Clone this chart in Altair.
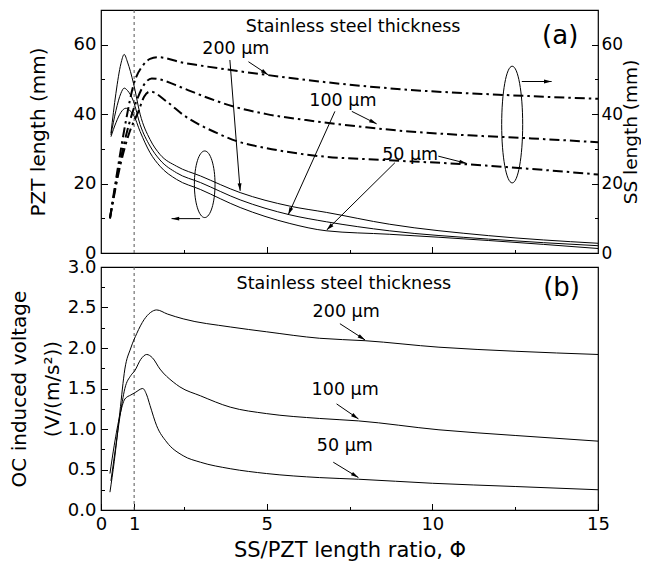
import math
import altair as alt
import pandas as pd

FONT = "DejaVu Sans"
W, HA, HB = 497, 243, 243
X_DOMAIN = [0, 15]
YA_DOMAIN = [0, 70]
YB_DOMAIN = [0, 3]

# ---------------- panel (a): PZT length (solid, left axis) ----------------
pzt_phi_200 = [0.3, 0.45, 0.6, 0.7, 0.8, 0.98, 1.18, 1.48, 1.78, 2.28, 3.0, 4.2, 5.7, 6.8, 8.7, 11.7, 15]
pzt_len_200 = [34.5, 46, 54.5, 57.2, 55, 48.9, 40, 32.7, 28.4, 25.0, 22.2, 17.4, 13.5, 11.7, 8.3, 5.0, 2.8]
pzt_phi_100 = [0.3, 0.45, 0.6, 0.7, 0.8, 0.98, 1.18, 1.48, 1.78, 2.28, 3.0, 4.2, 5.7, 6.8, 8.7, 11.7, 15]
pzt_len_100 = [34, 41, 46, 47.5, 46.8, 43.7, 37, 30.8, 26.8, 23.1, 20.3, 15.3, 11.0, 9.0, 6.4, 4.0, 2.1]
pzt_phi_50 = [0.3, 0.45, 0.6, 0.75, 0.85, 0.98, 1.18, 1.48, 1.78, 2.28, 3.0, 4.2, 5.7, 6.8, 8.7, 11.7, 15]
pzt_len_50 = [33.5, 37.5, 40.5, 41.7, 41.2, 39.8, 35, 28.9, 25.0, 21.2, 18.3, 13.1, 8.5, 6.4, 5.4, 3.6, 1.3]

# ---------------- panel (a): SS length (dash-dot, right axis) ----------------
ss_phi_200 = [0.27, 0.5, 0.75, 0.98, 1.28, 1.48, 1.72, 2.48, 3.0, 5.0, 6.6, 9.3, 12.0, 15]
ss_len_200 = [10, 24, 38, 48.4, 54.2, 55.9, 56.4, 54.8, 54.0, 51.3, 49.4, 47.0, 45.6, 44.4]
ss_phi_100 = [0.27, 0.55, 0.8, 1.08, 1.3, 1.53, 2.48, 3.0, 4.0, 5.0, 6.5, 8.0, 9.3, 11.1, 13.0, 15]
ss_len_100 = [10, 25, 35.5, 44, 48.5, 50.3, 47.5, 45.5, 42.2, 40.0, 37.9, 36.2, 35.0, 33.9, 33.0, 31.9]
ss_phi_50 = [0.27, 0.6, 0.85, 1.13, 1.3, 1.48, 2.0, 2.48, 3.49, 4.1, 5.0, 6.6, 8.5, 11.1, 13.0, 15]
ss_len_50 = [10, 26, 34.5, 40.8, 45, 46.5, 43.5, 39.8, 34.6, 32.2, 30.2, 27.9, 26.8, 25.5, 24.2, 22.6]

# ---------------- panel (b): OC induced voltage ----------------
oc_phi_200 = [0.27, 0.4, 0.57, 0.72, 0.9, 1.08, 1.3, 1.5, 1.68, 2.0, 2.48, 3.9, 5.0, 6.6, 7.97, 10.2, 12.5, 15]
oc_v_200 = [0.22, 0.6, 1.21, 1.74, 2.0, 2.18, 2.35, 2.44, 2.47, 2.42, 2.36, 2.26, 2.2, 2.12, 2.09, 2.01, 1.96, 1.92]
oc_phi_100 = [0.3, 0.45, 0.57, 0.72, 0.9, 1.02, 1.2, 1.38, 1.55, 1.78, 2.18, 2.38, 3.0, 3.9, 5.0, 6.6, 7.77, 10.2, 12.5, 15]
oc_v_100 = [0.36, 0.8, 1.15, 1.5, 1.66, 1.72, 1.86, 1.92, 1.88, 1.74, 1.58, 1.52, 1.41, 1.27, 1.19, 1.13, 1.10, 0.99, 0.92, 0.85]
oc_phi_50 = [0.27, 0.4, 0.57, 0.72, 0.9, 1.03, 1.26, 1.38, 1.48, 1.68, 1.98, 2.48, 3.0, 3.9, 5.0, 6.6, 7.77, 10, 12.5, 15]
oc_v_50 = [0.45, 0.8, 1.17, 1.37, 1.42, 1.45, 1.50, 1.42, 1.29, 1.04, 0.84, 0.67, 0.59, 0.51, 0.45, 0.40, 0.38, 0.33, 0.29, 0.25]

# ---------------- ticks ----------------
x_major_a = [5, 10]
x_major_b = [0, 1, 5, 10, 15]
x_minor = [2.5, 7.5, 12.5]
ya_major = [0, 20, 40, 60]
ya_minor = [10, 30, 50]
yb_major = [0, 0.5, 1.0, 1.5, 2.0, 2.5, 3.0]
yb_minor = [0.25, 0.75, 1.25, 1.75, 2.25, 2.75]
phi_marker = [1]

# ---------------- annotations ----------------
ann_a_text = ["Stainless steel thickness", "200 µm", "100 µm", "50 µm"]
ann_a_phi = [7.61, 4.07, 7.3, 9.33]
ann_a_v = [65.2, 58.9, 43.7, 28.1]
tag_a = ["(a)"]; tag_a_phi = [13.86]; tag_a_v = [62.5]

ann_b_text = ["Stainless steel thickness", "200 µm", "100 µm", "50 µm"]
ann_b_phi = [7.33, 7.40, 7.37, 7.36]
ann_b_v = [2.79, 2.44, 1.48, 0.79]
tag_b = ["(b)"]; tag_b_phi = [13.9]; tag_b_v = [2.74]

# arrows: (phi0, v0, phi1, v1)
arrows_a = [
    (3.89, 55.6, 4.20, 17.9),
    (4.45, 55.1, 5.05, 51.3),
    (7.06, 40.8, 5.65, 11.0),
    (7.57, 40.8, 8.32, 37.2),
    (8.87, 26.0, 6.81, 6.6),
    (10.18, 27.9, 11.04, 25.8),
    (2.99, 9.9, 2.13, 9.9),
    (12.7, 49.4, 13.6, 49.4),
]
arrows_b = [
    (7.21, 2.30, 7.97, 2.10),
    (7.11, 1.31, 7.77, 1.125),
    (7.01, 0.59, 7.77, 0.40),
]
ellipse1 = {"phi": [3.13], "v": [19.8]}
ellipse2 = {"phi": [12.41], "v": [37.0]}

# ---------------- helpers ----------------
def series_frame(items):
    rows = []
    for lab, xs_, ys_ in items:
        for x, y in zip(xs_, ys_):
            rows.append({"t": lab, "phi": x, "v": y})
    return pd.DataFrame(rows)


def arrow_frame(arrs, px_y):
    rows = []
    for x0, y0, x1, y1 in arrs:
        dx = (x1 - x0) * W / 15
        dy = -(y1 - y0) * px_y
        ang = math.degrees(math.atan2(dx, -dy)) % 360
        rows.append({"x0": x0, "y0": y0, "x1": x1, "y1": y1, "ang": ang})
    return pd.DataFrame(rows)


def axis(orient, values, size, labels=False, title=None, **kw):
    return alt.Axis(orient=orient, values=values, tickSize=size, offset=-size,
                    domain=False, grid=False, labels=labels, ticks=True, title=title, **kw)


NOAX = None
xs = alt.Scale(domain=X_DOMAIN, nice=False, zero=False)
ysa = alt.Scale(domain=YA_DOMAIN, nice=False)
ysb = alt.Scale(domain=YB_DOMAIN, nice=False)

HEAD = "M0,0L0.26,1L-0.26,1Z"
ELL1 = "M0,-1A0.31,1 0 1,1 0,1A0.31,1 0 1,1 0,-1Z"
ELL2 = "M0,-1A0.18,1 0 1,1 0,1A0.18,1 0 1,1 0,-1Z"


def annotation_layers(arrs, px_y, yscale):
    af = arrow_frame(arrs, px_y)
    base = alt.Chart(af)
    rules = base.mark_rule(color="black", strokeWidth=1).encode(
        x=alt.X("x0:Q", scale=xs, axis=NOAX), y=alt.Y("y0:Q", scale=yscale, axis=NOAX),
        x2="x1:Q", y2="y1:Q")
    heads = base.mark_point(shape=HEAD, filled=True, color="black", opacity=1, size=230).encode(
        x=alt.X("x1:Q", scale=xs, axis=NOAX), y=alt.Y("y1:Q", scale=yscale, axis=NOAX),
        angle=alt.Angle("ang:Q", scale=None))
    return [rules, heads]


def marker_rule():
    return alt.Chart(pd.DataFrame({"phi": phi_marker})).mark_rule(
        color="#555555", strokeDash=[3, 3], strokeWidth=1).encode(
        x=alt.X("phi:Q", scale=xs, axis=NOAX))


# ---------------- panel (a) ----------------
pzt = series_frame([("200", pzt_phi_200, pzt_len_200), ("100", pzt_phi_100, pzt_len_100),
                    ("50", pzt_phi_50, pzt_len_50)])
ss = series_frame([("200", ss_phi_200, ss_len_200), ("100", ss_phi_100, ss_len_100),
                   ("50", ss_phi_50, ss_len_50)])

a_solid = alt.Chart(pzt).mark_line(color="black", strokeWidth=1, interpolate="monotone").encode(
    x=alt.X("phi:Q", scale=xs, axis=axis("bottom", x_major_a, 6.5)),
    y=alt.Y("v:Q", scale=ysa, axis=axis("left", ya_major, 6.5, labels=True,
                                         title="PZT length (mm)", titlePadding=25)),
    detail="t:N")
a_dash = alt.Chart(ss).mark_line(color="black", strokeWidth=2, strokeDash=[10, 4, 2.5, 4],
                                 interpolate="monotone").encode(
    x=alt.X("phi:Q", scale=xs, axis=axis("bottom", x_minor, 3.5)),
    y=alt.Y("v:Q", scale=ysa, axis=axis("right", ya_major, 6.5, labels=True, labelPadding=3,
                                         labelFontSize=17,
                                         title="SS length (mm)", titleAngle=270,
                                         titleBaseline="top", titlePadding=-1,
                                         titleFontSize=18.5)),
    detail="t:N")
a_text = alt.Chart(pd.DataFrame({"phi": ann_a_phi, "v": ann_a_v, "s": ann_a_text})).mark_text(
    font=FONT, fontSize=17.5, color="black", align="center", baseline="middle").encode(
    x=alt.X("phi:Q", scale=xs, axis=NOAX),
    y=alt.Y("v:Q", scale=ysa, axis=axis("left", ya_minor, 3.5)),
    text="s:N")
a_tag = alt.Chart(pd.DataFrame({"phi": tag_a_phi, "v": tag_a_v, "s": tag_a})).mark_text(
    font=FONT, fontSize=26, color="black", align="center", baseline="middle").encode(
    x=alt.X("phi:Q", scale=xs, axis=NOAX),
    y=alt.Y("v:Q", scale=ysa, axis=axis("right", ya_minor, 3.5)),
    text="s:N")
e1 = alt.Chart(pd.DataFrame(ellipse1)).mark_point(shape=ELL1, filled=False, color="black",
                                                   opacity=1, strokeWidth=1, size=4436).encode(
    x=alt.X("phi:Q", scale=xs, axis=NOAX), y=alt.Y("v:Q", scale=ysa, axis=NOAX))
e2 = alt.Chart(pd.DataFrame(ellipse2)).mark_point(shape=ELL2, filled=False, color="black",
                                                   opacity=1, strokeWidth=1, size=13619).encode(
    x=alt.X("phi:Q", scale=xs, axis=NOAX), y=alt.Y("v:Q", scale=ysa, axis=NOAX))

panel_a = alt.layer(
    marker_rule(), a_solid, a_dash, a_text, a_tag, e1, e2,
    *annotation_layers(arrows_a, HA / 70, ysa)
).resolve_axis(x="independent", y="independent").properties(width=W, height=HA)

# ---------------- panel (b) ----------------
oc = series_frame([("200", oc_phi_200, oc_v_200), ("100", oc_phi_100, oc_v_100),
                   ("50", oc_phi_50, oc_v_50)])
b_lines = alt.Chart(oc).mark_line(color="black", strokeWidth=1, interpolate="monotone").encode(
    x=alt.X("phi:Q", scale=xs, axis=axis("bottom", x_major_b, 6.5, labels=True,
                                          title="SS/PZT length ratio, Φ", titlePadding=6,
                                          titleFontSize=21)),
    y=alt.Y("v:Q", scale=ysb, axis=axis("left", yb_major, 6.5, labels=True, format=".1f",
                                         title=["OC induced voltage", "(V/(m/s²))"],
                                         titlePadding=5, titleLineHeight=33)),
    detail="t:N")
b_text = alt.Chart(pd.DataFrame({"phi": ann_b_phi, "v": ann_b_v, "s": ann_b_text})).mark_text(
    font=FONT, fontSize=17.5, color="black", align="center", baseline="middle").encode(
    x=alt.X("phi:Q", scale=xs, axis=axis("bottom", x_minor, 3.5)),
    y=alt.Y("v:Q", scale=ysb, axis=axis("left", yb_minor, 3.5)),
    text="s:N")
b_tag = alt.Chart(pd.DataFrame({"phi": tag_b_phi, "v": tag_b_v, "s": tag_b})).mark_text(
    font=FONT, fontSize=26, color="black", align="center", baseline="middle").encode(
    x=alt.X("phi:Q", scale=xs, axis=NOAX),
    y=alt.Y("v:Q", scale=ysb, axis=NOAX),
    text="s:N")

panel_b = alt.layer(
    marker_rule(), b_lines, b_text, b_tag,
    *annotation_layers(arrows_b, HB / 3, ysb)
).resolve_axis(x="independent", y="independent").properties(width=W, height=HB)

chart = alt.vconcat(panel_a, panel_b, spacing=14, bounds="flush").properties(
    padding=0
).configure_view(stroke="black", strokeWidth=1.2).configure_axis(
    labelFont=FONT, labelFontSize=18, labelColor="black", labelPadding=5, labelFlush=False,
    titleFont=FONT, titleFontSize=20, titleFontWeight="normal", titleColor="black",
    tickColor="black", tickWidth=1
)

chart.save("out.html", embed_options={"renderer": "svg", "actions": False})
